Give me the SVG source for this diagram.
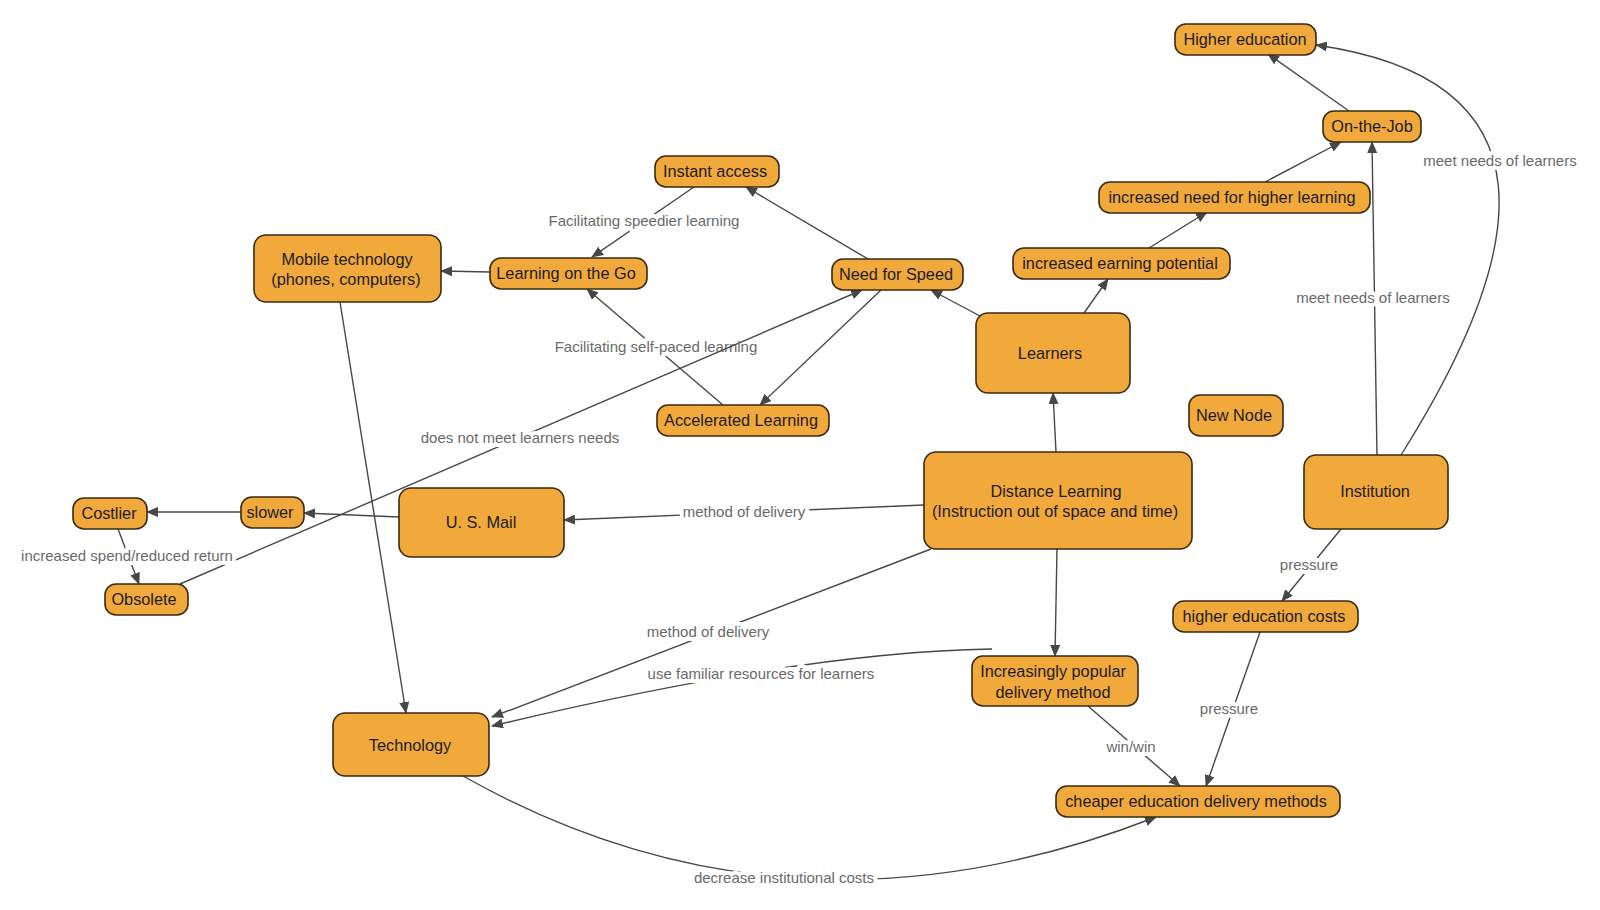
<svg xmlns="http://www.w3.org/2000/svg" width="1600" height="910" viewBox="0 0 1600 910">
<style>
.n rect{fill:#F2A93B;stroke:#3b2a12;stroke-width:1.6}
.n text{font-family:"Liberation Sans",Arial,sans-serif;font-size:16.3px;fill:#1c1c1c;text-anchor:middle}
.c path,.c line{stroke:#474747;stroke-width:1.4;fill:none;marker-end:url(#ah)}
.c text{font-family:"Liberation Sans",Arial,sans-serif;font-size:15px;fill:#6a6a6a;text-anchor:middle;stroke:#fff;stroke-width:8;paint-order:stroke;stroke-linejoin:round}
</style>
<defs>
<marker id="ah" markerUnits="userSpaceOnUse" markerWidth="12" markerHeight="10" refX="11" refY="5" orient="auto">
<path d="M0,0 L12,5 L0,10 z" fill="#474747"/>
</marker>
</defs>
<rect width="1600" height="910" fill="#fff"/>
<g class="c" id="connectors">
<line x1="1349" y1="111" x2="1268" y2="54"/>
<line x1="1265" y1="182" x2="1341" y2="142"/>
<line x1="1149" y1="248" x2="1207" y2="212"/>
<line x1="1084" y1="313" x2="1108" y2="279"/>
<line x1="980" y1="316" x2="931" y2="290"/>
<line x1="868" y1="259" x2="746" y2="187"/>
<line x1="694" y1="187" x2="592" y2="257"/>
<text x="644" y="226">Facilitating speedier learning</text>
<line x1="490" y1="272" x2="441" y2="271"/>
<line x1="723" y1="405" x2="587" y2="289"/>
<text x="656" y="352">Facilitating self-paced learning</text>
<line x1="881" y1="290" x2="760" y2="405"/>
<line x1="180" y1="584" x2="862" y2="290"/>
<text x="520" y="443">does not meet learners needs</text>
<line x1="1056" y1="452" x2="1053" y2="393"/>
<line x1="924" y1="505" x2="564" y2="520"/>
<text x="744" y="517">method of delivery</text>
<line x1="399" y1="517" x2="304" y2="513"/>
<line x1="241" y1="512" x2="147" y2="512"/>
<line x1="118" y1="529" x2="139" y2="584"/>
<text x="127" y="561">increased spend/reduced return</text>
<line x1="340" y1="302" x2="406" y2="713"/>
<line x1="931" y1="549" x2="492" y2="717"/>
<text x="708" y="637">method of delivery</text>
<path d="M992,649 Q800,652 492,726"/>
<text x="761" y="679">use familiar resources for learners</text>
<line x1="1057" y1="549" x2="1055" y2="656"/>
<line x1="1088" y1="706" x2="1180" y2="786"/>
<text x="1131" y="752">win/win</text>
<line x1="1341" y1="529" x2="1282" y2="601"/>
<text x="1309" y="570">pressure</text>
<line x1="1260" y1="632" x2="1206" y2="786"/>
<text x="1229" y="714">pressure</text>
<path d="M463,776 Q790,960 1156,817"/>
<text x="784" y="883">decrease institutional costs</text>
<line x1="1377" y1="455" x2="1372" y2="142"/>
<text x="1373" y="303">meet needs of learners</text>
<path d="M1401,455 C1530,250 1560,80 1316,45"/>
<text x="1500" y="166">meet needs of learners</text>
</g>
<g class="n" id="higher-education"><rect x="1175" y="24" width="141" height="31" rx="11"/><text x="1245" y="45">Higher education</text></g>
<g class="n" id="on-the-job"><rect x="1323" y="111" width="98" height="31" rx="11"/><text x="1372" y="132">On-the-Job</text></g>
<g class="n" id="increased-need"><rect x="1099" y="182" width="271" height="31" rx="11"/><text x="1232" y="203">increased need for higher learning</text></g>
<g class="n" id="increased-earning"><rect x="1013" y="248" width="217" height="31" rx="11"/><text x="1120" y="269">increased earning potential</text></g>
<g class="n" id="instant-access"><rect x="655" y="156" width="124" height="31" rx="11"/><text x="715" y="177">Instant access</text></g>
<g class="n" id="mobile-technology"><rect x="254" y="235" width="187" height="67" rx="12"/><text x="347" y="265">Mobile technology</text><text x="346" y="285">(phones, computers)</text></g>
<g class="n" id="learning-on-the-go"><rect x="490" y="258" width="157" height="31" rx="11"/><text x="566" y="279">Learning on the Go</text></g>
<g class="n" id="need-for-speed"><rect x="832" y="259" width="131" height="31" rx="11"/><text x="896" y="280">Need for Speed</text></g>
<g class="n" id="learners"><rect x="976" y="313" width="154" height="80" rx="12"/><text x="1050" y="359">Learners</text></g>
<g class="n" id="new-node"><rect x="1189" y="395" width="94" height="41" rx="11"/><text x="1234" y="421">New Node</text></g>
<g class="n" id="accelerated-learning"><rect x="657" y="405" width="172" height="31" rx="11"/><text x="741" y="426">Accelerated Learning</text></g>
<g class="n" id="distance-learning"><rect x="924" y="452" width="268" height="97" rx="12"/><text x="1056" y="497">Distance Learning</text><text x="1055" y="517">(Instruction out of space and time)</text></g>
<g class="n" id="institution"><rect x="1304" y="455" width="144" height="74" rx="12"/><text x="1375" y="497">Institution</text></g>
<g class="n" id="costlier"><rect x="73" y="498" width="74" height="31" rx="11"/><text x="109" y="519">Costlier</text></g>
<g class="n" id="slower"><rect x="241" y="497" width="63" height="31" rx="11"/><text x="270" y="518">slower</text></g>
<g class="n" id="us-mail"><rect x="399" y="488" width="165" height="69" rx="12"/><text x="481" y="528">U. S. Mail</text></g>
<g class="n" id="obsolete"><rect x="105" y="584" width="83" height="31" rx="11"/><text x="144" y="605">Obsolete</text></g>
<g class="n" id="higher-education-costs"><rect x="1173" y="601" width="185" height="31" rx="11"/><text x="1264" y="622">higher education costs</text></g>
<g class="n" id="increasingly-popular"><rect x="972" y="656" width="166" height="50" rx="11"/><text x="1053" y="677">Increasingly popular</text><text x="1053" y="698">delivery method</text></g>
<g class="n" id="technology"><rect x="333" y="713" width="156" height="63" rx="12"/><text x="410" y="751">Technology</text></g>
<g class="n" id="cheaper-education"><rect x="1056" y="786" width="284" height="31" rx="11"/><text x="1196" y="807">cheaper education delivery methods</text></g>
</svg>
